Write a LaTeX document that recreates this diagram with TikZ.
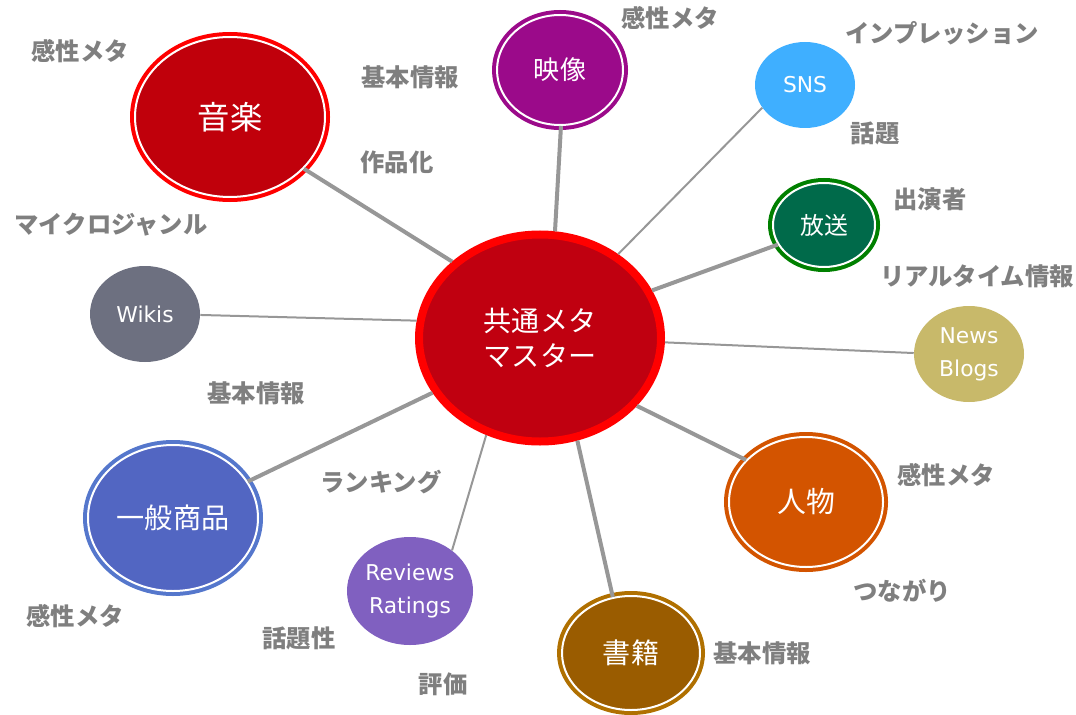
\documentclass[tikz,border=0pt]{standalone}
\usepackage{fontspec}
\setmainfont{Noto Sans CJK JP}
\newfontfamily\latinfont{DejaVu Sans}
\usetikzlibrary{shapes.geometric}
\newlength\px
\setlength\px{0.025cm}
\definecolor{hubred}{HTML}{C00010}
\definecolor{ringred}{HTML}{FF0000}
\definecolor{musicred}{HTML}{C0000B}
\definecolor{videopurple}{HTML}{9B0A8A}
\definecolor{snsblue}{HTML}{3FAFFF}
\definecolor{tvgreen}{HTML}{006A4A}
\definecolor{tvring}{HTML}{008000}
\definecolor{newsgold}{HTML}{C8B96A}
\definecolor{personorange}{HTML}{D35400}
\definecolor{bookbrown}{HTML}{9A5C00}
\definecolor{bookring}{HTML}{B07000}
\definecolor{reviewpurple}{HTML}{8060C0}
\definecolor{goodsblue}{HTML}{5266C2}
\definecolor{goodsring}{HTML}{5577CC}
\definecolor{wikigray}{HTML}{6D7080}
\definecolor{labelgray}{HTML}{7F7F7F}
\definecolor{linkgray}{HTML}{979797}

\begin{document}
\begin{tikzpicture}[x=\px, y=-\px]
  \tikzset{RingStyle/.style 2 args = {shape        = ellipse,
                                      fill         = #1,
                                      draw         = white,
                                      line width   = 2\px,
                                      preaction    = {draw = #2, line width = 10\px},
                                      text         = white,
                                      inner sep    = 0pt},
           PlainStyle/.style        = {shape        = ellipse,
                                      fill         = #1,
                                      text         = white,
                                      inner sep    = 0pt,
                                      align        = center,
                                      font         = \latinfont\fontsize{15.5}{23.5}\selectfont},
           size/.style 2 args       = {minimum width = #1\px, minimum height = #2\px},
           tag/.style               = {text = labelgray, font = \bfseries\fontsize{17.3}{19}\selectfont},
           ThickLink/.style         = {draw = linkgray, line width = 4\px},
           ThinLink/.style          = {draw = linkgray, line width = 2\px}}
  \useasboundingbox (0,0) rectangle (1076,715);

  %%% HUB %%%
  \node[shape=ellipse, fill=hubred, draw=ringred, line width=8\px, inner sep=0pt,
        size={242}{207}, text=white, align=center,
        font=\fontsize{20}{25.5}\selectfont] (hub) at (540,338) {共通メタ\\マスター};

  %%% SATELLITES %%%
  \node[RingStyle={musicred}{ringred}, size={190}{160}, font=\fontsize{23}{25}\selectfont] (music) at (230,117) {音楽};
  \node[RingStyle={videopurple}{videopurple}, size={126}{110}, font=\fontsize{18.5}{20}\selectfont] (video) at (560,70) {映像};
  \node[PlainStyle=snsblue, size={100}{86}] (sns) at (805,85) {SNS};
  \node[RingStyle={tvgreen}{tvring}, size={102}{84}, font=\fontsize{17}{19}\selectfont] (tv) at (824,225) {放送};
  \node[PlainStyle=newsgold, size={110}{96}] (news) at (969,354) {News\\Blogs};
  \node[RingStyle={personorange}{personorange}, size={154}{130}, font=\fontsize{20.5}{22}\selectfont] (person) at (806,502) {人物};
  \node[RingStyle={bookbrown}{bookring}, size={138}{114}, font=\fontsize{20}{22}\selectfont] (book) at (631,653) {書籍};
  \node[PlainStyle=reviewpurple, size={126}{108}] (review) at (410,591) {Reviews\\Ratings};
  \node[RingStyle={goodsblue}{goodsring}, size={170}{146}, font=\fontsize{20}{22}\selectfont] (goods) at (173,518) {一般商品};
  \node[PlainStyle=wikigray, size={110}{96}] (wiki) at (145,314) {Wikis};

  %%% LINKS %%%
  \draw[ThickLink] (hub.139) -- (music.-35);
  \draw[ThickLink] (hub.82) -- (video.-89);
  \draw[ThinLink] (hub.47) -- (sns.-152);
  \draw[ThickLink] (hub.23) -- (tv.-157);
  \draw[ThinLink] (hub.-2) -- (news.179);
  \draw[ThickLink] (hub.-35) -- (person.145);
  \draw[ThickLink] (hub.-70) -- (book.108);
  \draw[ThinLink] (hub.-119) -- (review.44);
  \draw[ThickLink] (hub.-153) -- (goods.26);
  \draw[ThinLink] (hub.172) -- (wiki.-1);

  %%% LABELS %%%
  \node[tag] (musicA) at (80,51) {感性メタ};
  \node[tag] (musicB) at (410,77) {基本情報};
  \node[tag] (musicC) at (397,162) {作品化};
  \node[tag] (musicD) at (111,225) {マイクロジャンル};
  \node[tag] (videoA) at (670,18) {感性メタ};
  \node[tag] (snsA) at (942,33) {インプレッション};
  \node[tag] (snsB) at (875,133) {話題};
  \node[tag] (tvA) at (930,199) {出演者};
  \node[tag] (tvB) at (977,276) {リアルタイム情報};
  \node[tag] (wikiA) at (256,393) {基本情報};
  \node[tag] (reviewA) at (381,482) {ランキング};
  \node[tag] (personA) at (946,475) {感性メタ};
  \node[tag] (personB) at (902,591) {つながり};
  \node[tag] (bookA) at (762,653) {基本情報};
  \node[tag] (goodsA) at (75,616) {感性メタ};
  \node[tag] (reviewB) at (299,638) {話題性};
  \node[tag] (reviewC) at (443,684) {評価};
\end{tikzpicture}
\end{document}
